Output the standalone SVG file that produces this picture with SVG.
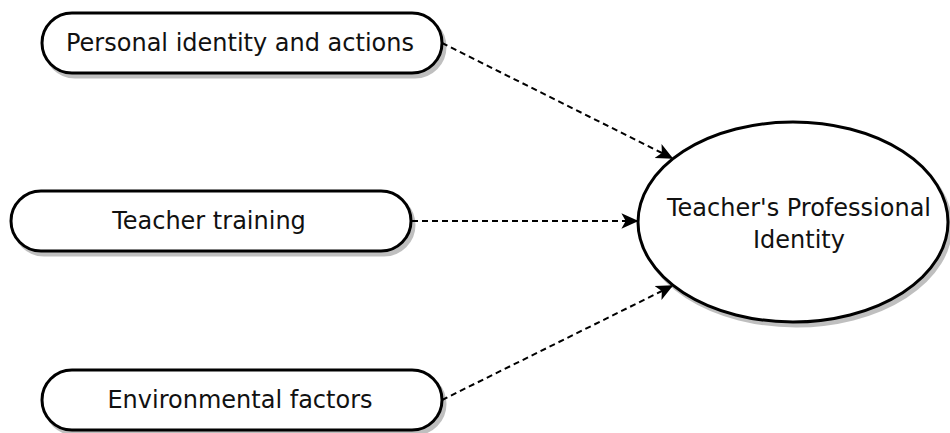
<svg xmlns="http://www.w3.org/2000/svg" width="950" height="433" viewBox="0 0 950 433">
  <defs>
    <marker id="arrow" viewBox="0 0 12 12" refX="11" refY="6" markerWidth="17" markerHeight="17" markerUnits="userSpaceOnUse" orient="auto">
      <path d="M0,0.5 L12,6 L0,11.5 L3,6 Z" fill="#000"/>
    </marker>
    <filter id="shadow" x="-10%" y="-20%" width="130%" height="150%">
      <feOffset in="SourceAlpha" dx="3" dy="4" result="off"/>
      <feFlood flood-color="#000" flood-opacity="0.25"/>
      <feComposite in2="off" operator="in" result="sh"/>
      <feMerge><feMergeNode in="sh"/><feMergeNode in="SourceGraphic"/></feMerge>
    </filter>
  </defs>
  <style>
    .box { fill: #fff; stroke: #000; stroke-width: 3; filter: url(#shadow); }
    .label { font-family: "DejaVu Sans", Verdana, sans-serif; font-size: 24px; fill: #111; text-anchor: middle; dominant-baseline: central; }
    .edge { fill: none; stroke: #000; stroke-width: 2; stroke-dasharray: 6 4; marker-end: url(#arrow); }
  </style>
  <rect width="950" height="433" fill="#fff"/>

  <g id="connectors">
    <path class="edge" d="M442,43 L672,158"/>
    <path class="edge" d="M412,221 L637,221"/>
    <path class="edge" d="M442,400 L672,286"/>
  </g>

  <g id="personal-identity">
    <rect class="box" x="42" y="13" width="400" height="60" rx="30" ry="30"/>
    <text class="label" x="240" y="43">Personal identity and actions</text>
  </g>

  <g id="teacher-training">
    <rect class="box" x="11" y="191" width="400" height="60" rx="30" ry="30"/>
    <text class="label" x="209" y="221">Teacher training</text>
  </g>

  <g id="environmental-factors">
    <rect class="box" x="42" y="370" width="400" height="60" rx="30" ry="30"/>
    <text class="label" x="240" y="400">Environmental factors</text>
  </g>

  <g id="professional-identity">
    <ellipse class="box" cx="793" cy="222" rx="155" ry="100"/>
    <text class="label" x="799" y="208">Teacher's Professional</text>
    <text class="label" x="799" y="240">Identity</text>
  </g>
</svg>
